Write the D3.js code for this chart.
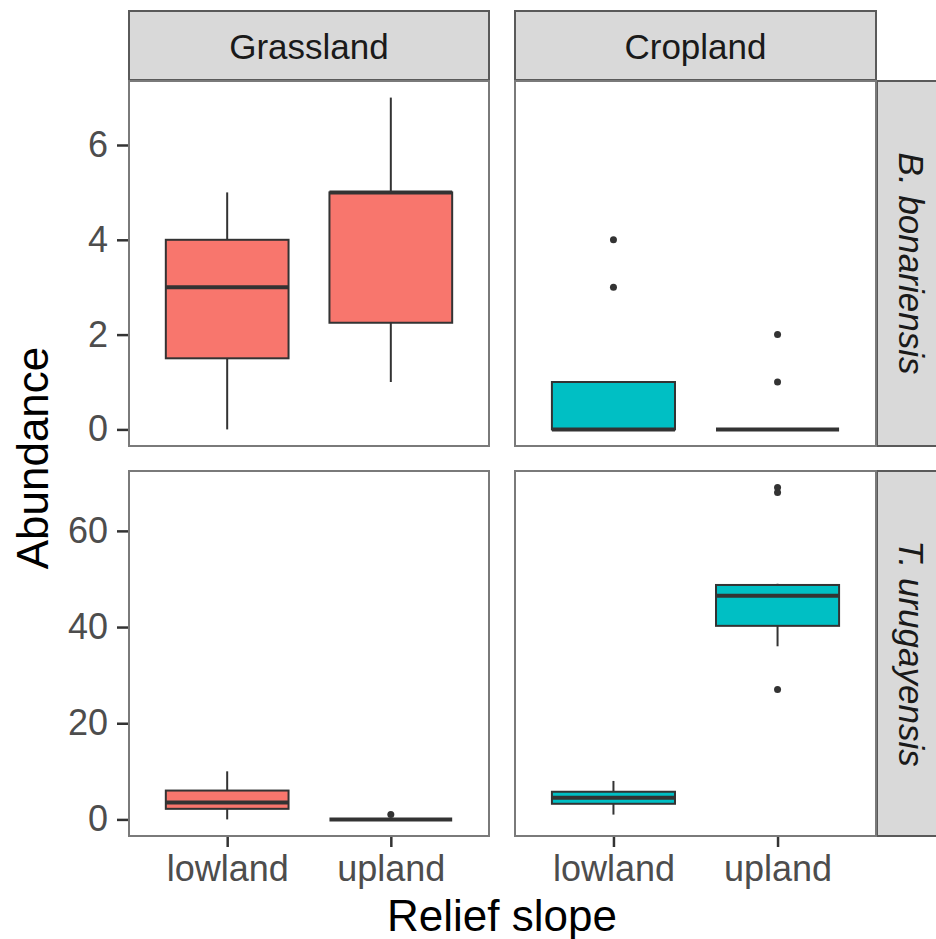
<!DOCTYPE html>
<html>
<head>
<meta charset="utf-8">
<script src="https://cdn.jsdelivr.net/npm/d3@7"></script>
<style>
body { margin: 0; background: #fff; }
text { font-family: "Liberation Sans", Arial, sans-serif; }
</style>
</head>
<body>
<script>
var landUses = ["Grassland", "Cropland"];
var species = ["B. bonariensis", "T. urugayensis"];
var slopes = ["lowland", "upland"];

// box stats per [species][landUse][slope]: [whiskerLow, q1, median, q3, whiskerHigh]
var boxStats = [
	[
		[[0, 1.5, 3, 4, 5], [1, 2.25, 5, 5, 7]],
		[[0, 0, 0, 1, 1], [0, 0, 0, 0, 0]]
	],
	[
		[[0, 2.2, 3.5, 6, 10], [0, 0, 0, 0, 0]],
		[[1, 3.25, 4.5, 5.75, 8], [36, 40.25, 46.5, 48.75, 49]]
	]
];
var outliers = [
	[[[], []], [[3, 4], [1, 2]]],
	[[[], [1]], [[], [27, 68, 69]]]
];
var yDomains = [[-0.35, 7.35], [-3.45, 72.45]];
var yTicks = [[0, 2, 4, 6], [0, 20, 40, 60]];
var fillColors = ["#F8766D", "#00BFC4"];

var w = 936, h = 939;
var colX = [[129, 489], [515, 876]];
var rowY = [[81, 446], [471, 836]];

var svg = d3.select("body").append("svg")
	.attr("width", w)
	.attr("height", h);

// top strips
landUses.forEach(function(lu, j){
	svg.append("rect")
		.attr("x", colX[j][0]).attr("y", 11)
		.attr("width", colX[j][1] - colX[j][0]).attr("height", 69)
		.attr("fill", "#d9d9d9").attr("stroke", "#5a5a5a").attr("stroke-width", 2);
	svg.append("text")
		.attr("x", (colX[j][0] + colX[j][1]) / 2).attr("y", 59)
		.attr("text-anchor", "middle")
		.attr("font-size", 35).attr("fill", "#1a1a1a")
		.text(lu);
});

// right strips
species.forEach(function(sp, i){
	svg.append("rect")
		.attr("x", 877).attr("y", rowY[i][0])
		.attr("width", 70).attr("height", rowY[i][1] - rowY[i][0])
		.attr("fill", "#d9d9d9").attr("stroke", "#5a5a5a").attr("stroke-width", 2);
	var cy = (rowY[i][0] + rowY[i][1]) / 2;
	svg.append("text")
		.attr("transform", "translate(899," + cy + ") rotate(90)")
		.attr("text-anchor", "middle")
		.attr("font-size", 35).attr("font-style", "italic").attr("fill", "#1a1a1a")
		.text(sp);
});

species.forEach(function(sp, i){
	var yScale = d3.scaleLinear()
		.domain(yDomains[i])
		.range([rowY[i][1], rowY[i][0]]);

	landUses.forEach(function(lu, j){
		var xScale = d3.scaleLinear()
			.domain([0.4, 2.6])
			.range(colX[j]);
		var g = svg.append("g");

		g.append("rect")
			.attr("x", colX[j][0]).attr("y", rowY[i][0])
			.attr("width", colX[j][1] - colX[j][0]).attr("height", rowY[i][1] - rowY[i][0])
			.attr("fill", "#fff");

		var bw = 0.375;
		slopes.forEach(function(sl, k){
			var s = boxStats[i][j][k];
			var cx = xScale(k + 1);
			g.append("line")
				.attr("x1", cx).attr("x2", cx)
				.attr("y1", yScale(s[0])).attr("y2", yScale(s[1]))
				.attr("stroke", "#333").attr("stroke-width", 2);
			g.append("line")
				.attr("x1", cx).attr("x2", cx)
				.attr("y1", yScale(s[3])).attr("y2", yScale(s[4]))
				.attr("stroke", "#333").attr("stroke-width", 2);
			g.append("rect")
				.attr("x", xScale(k + 1 - bw)).attr("y", yScale(s[3]))
				.attr("width", xScale(k + 1 + bw) - xScale(k + 1 - bw))
				.attr("height", Math.max(0, yScale(s[1]) - yScale(s[3])))
				.attr("fill", fillColors[j]).attr("stroke", "#333").attr("stroke-width", 2);
			g.append("line")
				.attr("x1", xScale(k + 1 - bw)).attr("x2", xScale(k + 1 + bw))
				.attr("y1", yScale(s[2])).attr("y2", yScale(s[2]))
				.attr("stroke", "#333").attr("stroke-width", 4);
			g.selectAll(".out" + k)
				.data(outliers[i][j][k])
				.enter().append("circle")
				.attr("cx", cx).attr("cy", function(d){ return yScale(d); })
				.attr("r", 3.5).attr("fill", "#333");
		});

		// panel border
		g.append("rect")
			.attr("x", colX[j][0]).attr("y", rowY[i][0])
			.attr("width", colX[j][1] - colX[j][0]).attr("height", rowY[i][1] - rowY[i][0])
			.attr("fill", "none").attr("stroke", "#7a7a7a").attr("stroke-width", 2);

		if (j == 0) {
			var yAxis = d3.axisLeft(yScale).tickValues(yTicks[i]).tickSize(11).tickPadding(9);
			var ya = svg.append("g")
				.attr("transform", "translate(" + (colX[j][0] - 1) + ",0)")
				.call(yAxis);
			ya.select(".domain").remove();
			ya.selectAll(".tick line").attr("stroke", "#333").attr("stroke-width", 2.5);
			ya.selectAll(".tick text").attr("font-size", 36).attr("fill", "#4d4d4d")
				.attr("font-family", "Liberation Sans, Arial, sans-serif");
		}
		if (i == 1) {
			var xAxis = d3.axisBottom(xScale).tickValues([1, 2])
				.tickFormat(function(d){ return slopes[d - 1]; })
				.tickSize(10).tickPadding(8);
			var xa = svg.append("g")
				.attr("transform", "translate(0," + (rowY[i][1] + 1) + ")")
				.call(xAxis);
			xa.select(".domain").remove();
			xa.selectAll(".tick line").attr("stroke", "#333").attr("stroke-width", 2.5);
			xa.selectAll(".tick text").attr("font-size", 36).attr("fill", "#4d4d4d")
				.attr("font-family", "Liberation Sans, Arial, sans-serif");
		}
	});
});

svg.append("text")
	.attr("x", 502).attr("y", 931)
	.attr("text-anchor", "middle")
	.attr("font-size", 44).attr("fill", "#000")
	.text("Relief slope");

svg.append("text")
	.attr("transform", "translate(48,458) rotate(-90)")
	.attr("text-anchor", "middle")
	.attr("font-size", 44).attr("fill", "#000")
	.text("Abundance");
</script>
</body>
</html>
